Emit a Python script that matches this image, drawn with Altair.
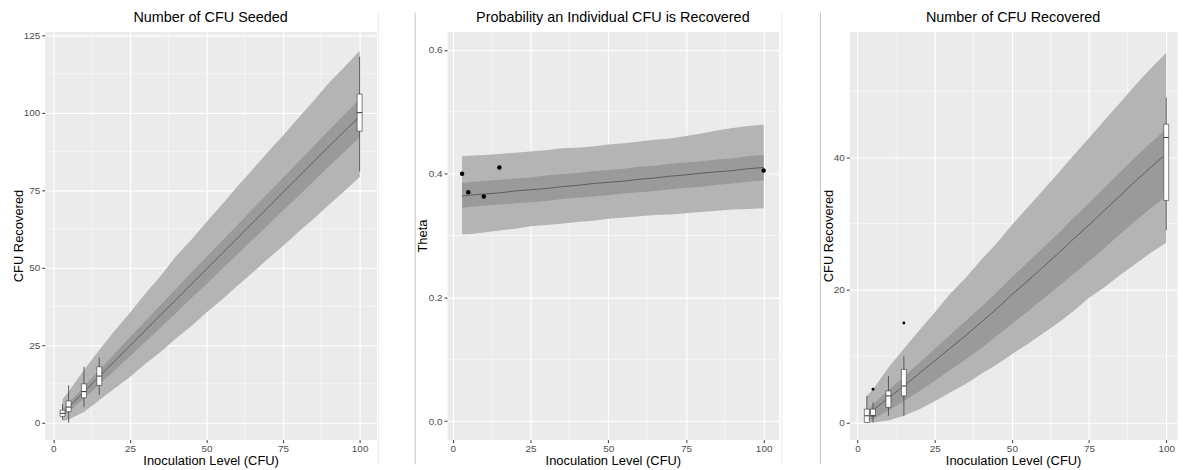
import altair as alt
import pandas as pd

FONT = "Liberation Sans"

# ---------------- data ----------------
xs = [3, 5, 10, 15, 20, 25, 30, 35, 40, 45, 50, 55, 60, 65, 70, 75, 80, 85, 90, 95, 100]

# Panel 1: Number of CFU Seeded
seed_mid = [3.1, 5.0, 9.9, 14.9, 19.8, 24.8, 29.7, 34.7, 39.6, 44.6, 49.5, 54.5, 59.4, 64.4, 69.3, 74.3, 79.2, 84.2, 89.1, 94.0, 98.8]
seed_out_hi = [7.5, 10.0, 17.0, 23.4, 29.6, 35.4, 41.6, 47.3, 53.6, 58.9, 64.7, 70.3, 76.1, 81.6, 87.2, 92.6, 98.3, 103.8, 109.6, 114.6, 120.0]
seed_out_lo = [0.5, 1.0, 3.4, 7.2, 11.0, 14.7, 18.9, 22.8, 27.1, 31.1, 35.5, 39.6, 44.1, 48.3, 52.8, 57.0, 61.5, 65.8, 70.3, 74.6, 79.2]
seed_in_lo = [1.9, 3.5, 7.8, 12.3, 16.8, 21.4, 26.0, 30.7, 35.3, 40.1, 44.7, 49.5, 54.2, 58.9, 63.6, 68.4, 73.1, 77.9, 82.7, 87.4, 92.0]
seed_in_hi = [4.1, 6.2, 11.6, 17.0, 22.2, 27.5, 32.7, 37.9, 43.1, 48.3, 53.4, 58.6, 63.6, 68.8, 73.9, 79.0, 84.1, 89.2, 94.3, 99.3, 104.3]

box_x = [3, 5, 10, 15, 100]
seed_wlo = [1, 0, 5, 9, 81]
seed_q1 = [2, 3.5, 8, 12, 94]
seed_med = [3, 5, 10, 15, 100]
seed_q3 = [4, 7, 12.5, 18, 106]
seed_whi = [6, 12, 18, 21, 118]

# Panel 2: Probability an Individual CFU is Recovered
theta_mid = [0.364, 0.365, 0.367, 0.369, 0.372, 0.374, 0.376, 0.379, 0.381, 0.384, 0.386, 0.388, 0.391, 0.393, 0.396, 0.398, 0.401, 0.403, 0.405, 0.408, 0.410]
theta_out_hi = [0.428, 0.429, 0.430, 0.432, 0.434, 0.436, 0.438, 0.441, 0.442, 0.444, 0.447, 0.449, 0.452, 0.455, 0.457, 0.461, 0.465, 0.470, 0.474, 0.477, 0.479]
theta_out_lo = [0.302, 0.302, 0.305, 0.308, 0.311, 0.315, 0.317, 0.319, 0.322, 0.324, 0.327, 0.329, 0.331, 0.333, 0.334, 0.336, 0.338, 0.340, 0.342, 0.343, 0.344]
theta_in_hi = [0.385, 0.386, 0.388, 0.390, 0.392, 0.394, 0.397, 0.399, 0.401, 0.404, 0.406, 0.408, 0.411, 0.413, 0.416, 0.418, 0.420, 0.423, 0.425, 0.428, 0.430]
theta_in_lo = [0.345, 0.346, 0.348, 0.350, 0.352, 0.354, 0.356, 0.359, 0.361, 0.363, 0.365, 0.368, 0.370, 0.372, 0.375, 0.377, 0.379, 0.382, 0.384, 0.387, 0.389]
obs_x = [3, 5, 10, 15, 100]
obs_theta = [0.400, 0.370, 0.363, 0.410, 0.405]

# Panel 3: Number of CFU Recovered
rec_mid = [1.1, 1.85, 3.7, 5.5, 7.4, 9.3, 11.2, 13.1, 15.1, 17.1, 19.3, 21.3, 23.4, 25.5, 27.7, 29.8, 32.0, 34.2, 36.4, 38.5, 40.5]
rec_out_hi = [4.0, 5.0, 8.3, 11.1, 13.9, 16.6, 19.4, 21.8, 24.5, 27.0, 29.8, 32.4, 35.0, 37.6, 40.3, 42.9, 45.6, 48.2, 50.9, 53.4, 55.8]
rec_out_lo = [0, 0, 0.3, 1.0, 2.0, 3.2, 4.5, 5.8, 7.3, 8.7, 10.3, 11.8, 13.4, 15.0, 16.8, 18.8, 20.4, 22.2, 23.9, 25.6, 27.1]
rec_in_lo = [0.1, 0.5, 1.8, 3.2, 4.7, 6.3, 7.9, 9.5, 11.2, 13.0, 14.9, 16.7, 18.6, 20.5, 22.4, 24.3, 26.3, 28.4, 30.4, 32.3, 34.1]
rec_in_hi = [1.7, 2.7, 4.9, 6.9, 9.0, 11.1, 13.2, 15.3, 17.4, 19.6, 21.9, 24.1, 26.3, 28.5, 30.9, 33.1, 35.4, 37.7, 40.0, 42.2, 44.3]

rec_wlo = [0, 0, 1, 1, 29]
rec_q1 = [0, 1, 2.25, 4, 33.5]
rec_med = [1, 1, 4, 5.5, 43]
rec_q3 = [2, 2, 4.75, 8, 45]
rec_whi = [4, 3, 7, 10, 49]
outlier_x = [5, 15]
outlier_y = [5, 15]

x_ticks = [0, 25, 50, 75, 100]
x_minor = [12.5, 37.5, 62.5, 87.5]

OUTER = "#b4b4b4"
INNER = "#9a9a9a"
LINE = "#555555"
H = 411


def panel(title, mid, olo, ohi, ilo, ihi, xdom, ydom, yticks, yminor, ytitle,
          yfmt, width, ytitle_x, boxes=None, points=None, pt_size=20,
          seps=()):
    xsc = alt.Scale(domain=xdom, nice=False, zero=False, padding=0)
    ysc = alt.Scale(domain=ydom, nice=False, zero=False, padding=0)
    xax = alt.Axis(values=x_ticks, title="Inoculation Level (CFU)",
                   titleX=width / 2, titleY=25, titleBaseline="alphabetic",
                   titleAlign="center", labelPadding=0.5)
    yax = alt.Axis(values=yticks, format=yfmt, title=ytitle, titleX=ytitle_x,
                   titleY=H / 2, titleAngle=-90, titleBaseline="alphabetic",
                   titleAlign="center", labelPadding=2)

    def X(f):
        return alt.X(f, type="quantitative", scale=xsc, axis=xax)

    def Y(f):
        return alt.Y(f, type="quantitative", scale=ysc, axis=yax)

    band = pd.DataFrame({"x": xs, "mid": mid, "olo": olo, "ohi": ohi,
                         "ilo": ilo, "ihi": ihi})
    layers = []
    layers.append(alt.Chart(pd.DataFrame({"x": x_minor})).mark_rule(
        color="white", strokeWidth=0.5).encode(x=X("x")))
    layers.append(alt.Chart(pd.DataFrame({"mid": yminor})).mark_rule(
        color="white", strokeWidth=0.5).encode(y=Y("mid")))
    b = alt.Chart(band)
    layers.append(b.mark_area(color=OUTER, opacity=1).encode(
        x=X("x"), y=Y("olo"), y2="ohi"))
    layers.append(b.mark_area(color=INNER, opacity=1).encode(
        x=X("x"), y=Y("ilo"), y2="ihi"))
    layers.append(b.mark_line(color=LINE, strokeWidth=0.9).encode(
        x=X("x"), y=Y("mid")))
    if boxes is not None:
        bx = pd.DataFrame(boxes)
        bc = alt.Chart(bx)
        layers.append(bc.mark_rule(color="#4d4d4d", strokeWidth=0.9).encode(
            x=X("x"), y=Y("wlo"), y2="whi"))
        layers.append(bc.mark_bar(fill="white", stroke="#333333",
                                  strokeWidth=0.6, size=5).encode(
            x=X("x"), y=Y("q1"), y2="q3"))
        layers.append(bc.mark_tick(orient="horizontal", size=5, thickness=1,
                                   color="#333333", opacity=1).encode(
            x=X("x"), y=Y("med")))
    if points is not None:
        layers.append(alt.Chart(pd.DataFrame(points)).mark_circle(
            color="black", size=pt_size, opacity=1).encode(
            x=X("x"), y=Y("mid")))
    for sx, sc in seps:
        layers.append(alt.Chart(pd.DataFrame({"x": [0]})).mark_rule(
            color=sc, strokeWidth=1).encode(
            x=alt.value(sx), y=alt.value(-19), y2=alt.value(436)))
    return alt.layer(*layers).properties(
        width=width, height=H,
        title=alt.TitleParams(title, frame="group", offset=-24.5,
                              baseline="alphabetic"))


p1 = panel("Number of CFU Seeded", seed_mid, seed_out_lo, seed_out_hi,
           seed_in_lo, seed_in_hi, [-2.8, 105.5], [-5.5, 126.2],
           [0, 25, 50, 75, 100, 125], [12.5, 37.5, 62.5, 87.5, 112.5],
           "CFU Recovered", "d", 334, -22.3,
           boxes={"x": box_x, "wlo": seed_wlo, "q1": seed_q1, "med": seed_med,
                  "q3": seed_q3, "whi": seed_whi},
           seps=[(336, "#ececec")])

p2 = panel("Probability an Individual CFU is Recovered", theta_mid,
           theta_out_lo, theta_out_hi, theta_in_lo, theta_in_hi,
           [-1.85, 104.85], [-0.03, 0.63], [0, 0.2, 0.4, 0.6],
           [0.1, 0.3, 0.5], "Theta", ".1f", 334, -20.3,
           points={"x": obs_x, "mid": obs_theta}, pt_size=20,
           seps=[(-32, "#c4c4c4"), (337, "#ececec")])

p3 = panel("Number of CFU Recovered", rec_mid, rec_out_lo, rec_out_hi,
           rec_in_lo, rec_in_hi, [-2.7, 103.5], [-2.6, 59.0],
           [0, 20, 40], [10, 30, 50], "CFU Recovered", "d", 330, -17.3,
           boxes={"x": box_x, "wlo": rec_wlo, "q1": rec_q1, "med": rec_med,
                  "q3": rec_q3, "whi": rec_whi},
           points={"x": outlier_x, "mid": outlier_y}, pt_size=8,
           seps=[(-29, "#c4c4c4")])

chart = alt.hconcat(p1, p2, p3, spacing=71, bounds="flush").properties(
    padding={"left": 4, "top": 0, "right": 0, "bottom": 0}
).configure_view(
    fill="#EBEBEB", stroke="transparent"
).configure_axis(
    domain=False, grid=True, gridColor="white", gridWidth=1.1,
    tickColor="#333333", tickSize=3, tickWidth=1,
    labelColor="#4d4d4d", labelFontSize=10, labelFont=FONT,
    titleFont=FONT, titleFontSize=13, titleColor="black",
    titleFontWeight="normal"
).configure_title(
    font=FONT, fontSize=14.5, color="black", fontWeight="normal",
    anchor="middle"
)

chart.save("out.html", embed_options={"renderer": "svg", "actions": False})
